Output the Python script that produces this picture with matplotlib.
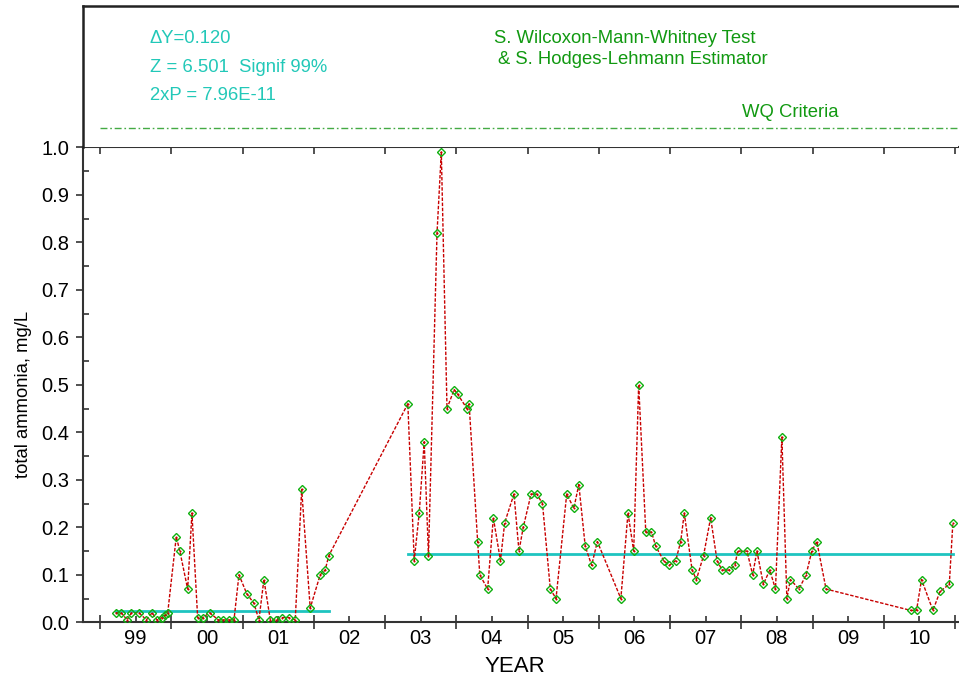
import numpy as np
import matplotlib.pyplot as plt
from matplotlib.ticker import FixedLocator, FixedFormatter, MultipleLocator, FormatStrFormatter

plt.rcParams['font.family'] = ['Liberation Sans', 'DejaVu Sans']

# sampling dates (decimal year) and total ammonia (mg/L), period 1: 1999-2002
yr1 = [1999.22, 1999.30, 1999.38, 1999.44, 1999.55, 1999.65, 1999.73, 1999.80,
       1999.87, 1999.91, 1999.95, 2000.07, 2000.12, 2000.23, 2000.29, 2000.37,
       2000.44, 2000.54, 2000.66, 2000.73, 2000.81, 2000.88, 2000.95, 2001.06,
       2001.16, 2001.23, 2001.30, 2001.39, 2001.47, 2001.56, 2001.65, 2001.74,
       2001.83, 2001.95, 2002.09, 2002.16, 2002.21]
nh3_1 = [0.02, 0.02, 0.005, 0.02, 0.02, 0.005, 0.02, 0.005,
         0.01, 0.015, 0.02, 0.18, 0.15, 0.07, 0.23, 0.01,
         0.01, 0.02, 0.005, 0.005, 0.005, 0.005, 0.10, 0.06,
         0.04, 0.005, 0.09, 0.005, 0.005, 0.01, 0.01, 0.005,
         0.28, 0.03, 0.10, 0.11, 0.14]

# period 2: 2003-2010
yr2 = [2003.32, 2003.41, 2003.48, 2003.55, 2003.61, 2003.73, 2003.79, 2003.87,
       2003.97, 2004.02, 2004.15, 2004.18, 2004.30, 2004.33, 2004.44, 2004.52,
       2004.62, 2004.68, 2004.81, 2004.88, 2004.94, 2005.05, 2005.13, 2005.21,
       2005.32, 2005.40, 2005.55, 2005.65, 2005.72, 2005.81, 2005.90, 2005.98,
       2006.31, 2006.41, 2006.49, 2006.56, 2006.66, 2006.74, 2006.80, 2006.91,
       2006.99, 2007.08, 2007.15, 2007.20, 2007.31, 2007.37, 2007.47, 2007.57,
       2007.66, 2007.73, 2007.83, 2007.91, 2007.95, 2008.08, 2008.16, 2008.22,
       2008.31, 2008.40, 2008.48, 2008.57, 2008.64, 2008.69, 2008.81, 2008.91,
       2008.99, 2009.06, 2009.19, 2010.38, 2010.46, 2010.53, 2010.69, 2010.79,
       2010.92, 2010.97]
nh3_2 = [0.46, 0.13, 0.23, 0.38, 0.14, 0.82, 0.99, 0.45,
         0.49, 0.48, 0.45, 0.46, 0.17, 0.10, 0.07, 0.22,
         0.13, 0.21, 0.27, 0.15, 0.20, 0.27, 0.27, 0.25,
         0.07, 0.05, 0.27, 0.24, 0.29, 0.16, 0.12, 0.17,
         0.05, 0.23, 0.15, 0.50, 0.19, 0.19, 0.16, 0.13,
         0.12, 0.13, 0.17, 0.23, 0.11, 0.09, 0.14, 0.22,
         0.13, 0.11, 0.11, 0.12, 0.15, 0.15, 0.10, 0.15,
         0.08, 0.11, 0.07, 0.39, 0.05, 0.09, 0.07, 0.10,
         0.15, 0.17, 0.07, 0.025, 0.025, 0.09, 0.025, 0.065,
         0.08, 0.21]

# Hodges-Lehmann period medians
med1 = 0.024
med2 = 0.144

years = list(range(1999, 2012))
year_labels = ['99', '00', '01', '02', '03', '04', '05', '06', '07', '08', '09', '10']

W, H = 959, 683
teal = '#22c8b8'
green = '#119911'

fig = plt.figure(figsize=(W / 100, H / 100), dpi=100)

def box(x0, y0, x1, y1):
    return [x0 / W, 1 - y1 / H, (x1 - x0) / W, (y1 - y0) / H]

ax = fig.add_axes(box(83, 147.3, 958, 622.3))
ax_top = fig.add_axes(box(83, 5.5, 958, 147.3), sharex=ax)

# data series
yr = yr1 + yr2
nh3 = nh3_1 + nh3_2
ax.plot(yr, nh3, color='#c80000', lw=1, dashes=(2.5, 1.2), zorder=3)
ax.plot([yr1[0], yr1[-1]], [med1, med1], color='#1ec4c0', lw=2, zorder=2)
ax.plot([yr2[0], yr2[-1]], [med2, med2], color='#1ec4c0', lw=2, zorder=2)
ax.plot(yr, nh3, ls='none', marker='D', ms=4.5, mfc='none', mec='#10b010',
        mew=1, zorder=4)
ax.plot(yr, nh3, ls='none', marker='o', ms=1.5, mfc='#c80000', mec='none',
        zorder=5)

ax.set_xlim(1998.761, 2011.042)
ax.set_ylim(0, 1.0)

ax.xaxis.set_major_locator(FixedLocator(years))
ax.xaxis.set_major_formatter(FixedFormatter([''] * len(years)))
ax.xaxis.set_minor_locator(FixedLocator([y + 0.5 for y in years[:-1]]))
ax.xaxis.set_minor_formatter(FixedFormatter(year_labels))
ax.yaxis.set_major_locator(MultipleLocator(0.1))
ax.yaxis.set_major_formatter(FormatStrFormatter('%.1f'))
ax.yaxis.set_minor_locator(MultipleLocator(0.05))

ax.tick_params(axis='x', which='major', direction='inout', length=10,
               width=1.2, top=True, bottom=True, color='#333333')
ax.tick_params(axis='x', which='minor', direction='in', length=4, width=1.2,
               top=False, labelsize=14.5, pad=5, color='#333333')
ax.tick_params(axis='y', which='major', direction='out', length=5, width=1.2,
               labelsize=14.5, pad=5, color='#333333')
ax.tick_params(axis='y', which='minor', direction='in', length=4, width=1.2,
               color='#333333')

for side in ['left', 'bottom', 'top']:
    ax.spines[side].set_linewidth(1.5)
    ax.spines[side].set_color('#333333')
ax.spines['right'].set_visible(False)

ax.set_xlabel('YEAR', fontsize=16)
ax.xaxis.set_label_coords(0.4937, -0.071)
ax.set_ylabel('total ammonia, mg/L', fontsize=13.3)
ax.yaxis.set_label_coords(-0.0583, 0.4806)

# header panel
ax_top.set_ylim(0, 1)
ax_top.tick_params(which='both', left=False, bottom=False, top=False,
                   labelleft=False, labelbottom=False)
ax_top.spines['bottom'].set_visible(False)
ax_top.spines['right'].set_visible(False)
for side in ['left', 'top']:
    ax_top.spines[side].set_linewidth(1.8)
    ax_top.spines[side].set_color('#222222')
ax_top.plot([1999.0, 2011.042], [0.134, 0.134], color='#44aa44', lw=1,
            dashes=(5, 2, 1.2, 2))

def label(x, y, s, color):
    fig.text(x / W, 1 - y / H, s, color=color, fontsize=13.3, va='baseline')

label(150, 43, '\u0394Y=0.120', teal)
label(150, 72, 'Z = 6.501  Signif 99%', teal)
label(150, 100, '2xP = 7.96E-11', teal)
label(494, 43, 'S. Wilcoxon-Mann-Whitney Test', green)
label(498, 64, '& S. Hodges-Lehmann Estimator', green)
label(742, 117, 'WQ Criteria', green)

fig.savefig('out.png', dpi=100)
